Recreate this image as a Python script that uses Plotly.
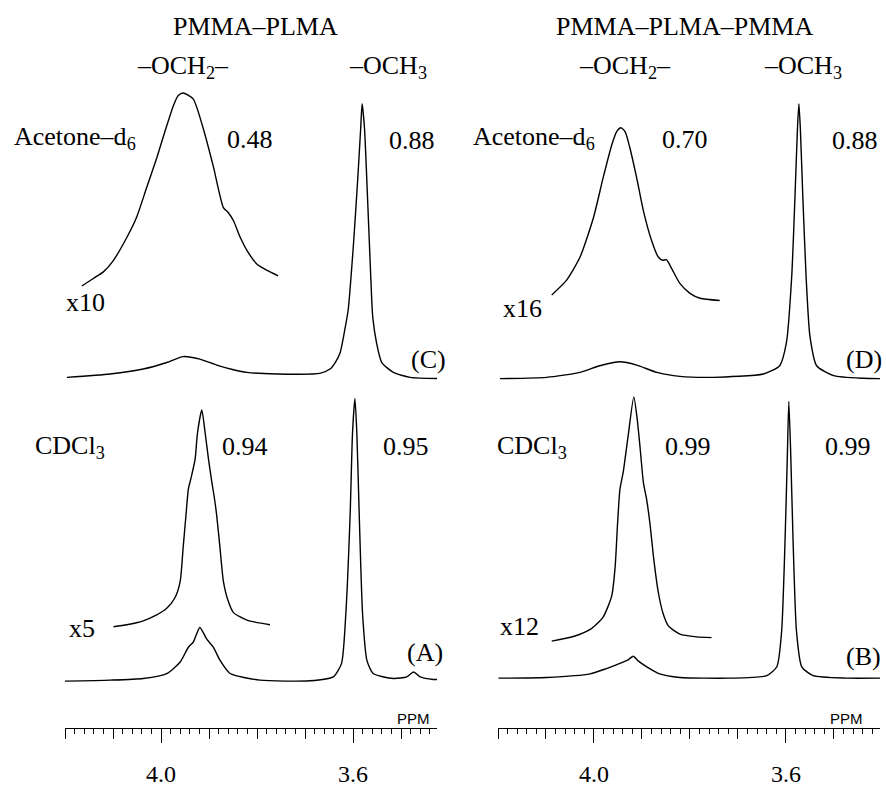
import plotly.graph_objects as go

# ------------------------- data -------------------------
# chemical shift (ppm) and intensity (a.u., height above each trace's own baseline)
ppm_C = [4.196, 4.106, 4.037, 3.988, 3.954, 3.919, 3.884, 3.849, 3.821, 3.759, 3.669, 3.648,
         3.637, 3.627, 3.617, 3.610, 3.599, 3.590, 3.584, 3.581, 3.576, 3.570, 3.563, 3.559,
         3.551, 3.540, 3.516, 3.481, 3.412]
int_C = [1.3, 4.7, 9.7, 16.3, 22.3, 19.7, 13.7, 9.0, 6.3, 4.7, 5.3, 9.7,
         16.3, 26.0, 49.7, 69.7, 136.0, 203.0, 253.0, 278.0, 253.0, 186.3, 103.0, 63.0,
         36.3, 16.3, 6.3, 1.3, 0.0]

ppm_C_x10 = [4.165, 4.141, 4.120, 4.099, 4.071, 4.051, 4.030, 4.009, 3.992, 3.974, 3.964, 3.954,
             3.933, 3.912, 3.891, 3.870, 3.860, 3.849, 3.835, 3.821, 3.801, 3.780, 3.756]
int_C_x10 = [23.7, 31.3, 38.0, 49.7, 73.0, 93.0, 123.0, 153.0, 179.7, 206.3, 216.3, 219.0,
             213.0, 183.0, 144.7, 103.0, 98.0, 89.7, 73.0, 59.7, 46.3, 39.7, 34.0]

ppm_A = [4.204, 4.106, 4.037, 3.988, 3.960, 3.943, 3.933, 3.919, 3.905, 3.891, 3.877, 3.856,
         3.794, 3.690, 3.641, 3.624, 3.615, 3.606, 3.601, 3.596, 3.592, 3.587, 3.580, 3.571,
         3.558, 3.516, 3.488, 3.474, 3.460, 3.433, 3.412]
int_A = [0.0, 1.0, 2.7, 7.7, 19.3, 34.3, 39.3, 54.3, 42.7, 34.3, 21.0, 7.7,
         1.0, 0.3, 4.3, 17.7, 67.7, 167.7, 251.0, 286.0, 251.0, 167.7, 67.7, 21.0,
         7.7, 2.7, 4.3, 9.3, 4.3, 1.7, 1.7]

ppm_A_x5 = [4.099, 4.071, 4.037, 4.009, 3.988, 3.971, 3.960, 3.954, 3.948, 3.943, 3.938, 3.929,
            3.924, 3.915, 3.908, 3.901, 3.894, 3.889, 3.884, 3.877, 3.870, 3.860, 3.849, 3.821,
            3.773]
int_A_x5 = [9.0, 11.0, 15.0, 21.0, 27.7, 38.3, 55.0, 88.3, 121.7, 148.3, 158.3, 178.3,
            205.0, 228.3, 205.0, 178.3, 155.0, 140.0, 121.7, 88.3, 55.0, 35.0, 23.3, 15.7,
            11.0]

ppm_D = [4.196, 4.099, 4.029, 3.988, 3.946, 3.911, 3.869, 3.821, 3.751, 3.647, 3.613, 3.599,
         3.588, 3.581, 3.576, 3.573, 3.570, 3.565, 3.558, 3.550, 3.536, 3.501, 3.439, 3.394]
int_D = [0.0, 1.3, 6.3, 13.0, 17.0, 13.7, 6.3, 2.3, 1.3, 4.7, 13.0, 36.3,
         103.0, 186.3, 253.0, 278.0, 253.0, 186.3, 103.0, 43.0, 13.0, 3.0, 0.3, 0.0]

ppm_D_x16 = [4.088, 4.057, 4.029, 4.001, 3.981, 3.963, 3.953, 3.944, 3.935, 3.925, 3.911, 3.897,
             3.880, 3.866, 3.857, 3.849, 3.838, 3.821, 3.800, 3.779, 3.738]
int_D_x16 = [16.7, 31.7, 55.0, 95.0, 135.0, 168.3, 181.7, 185.7, 181.7, 165.0, 135.0, 101.7,
             71.7, 55.0, 51.7, 52.3, 43.3, 28.3, 18.3, 13.3, 11.0]

ppm_B = [4.199, 4.099, 4.008, 3.974, 3.946, 3.929, 3.918, 3.908, 3.890, 3.863, 3.821, 3.717,
         3.640, 3.619, 3.609, 3.602, 3.597, 3.594, 3.590, 3.585, 3.578, 3.567, 3.543, 3.474,
         3.404]
int_B = [0.0, 0.7, 4.3, 9.7, 15.0, 18.6, 22.2, 17.5, 11.5, 4.3, 0.7, 0.0,
         2.5, 11.5, 47.3, 136.8, 226.3, 280.0, 226.3, 136.8, 47.3, 11.5, 2.5, 0.0,
         0.0]

ppm_B_x12 = [4.088, 4.043, 4.008, 3.981, 3.963, 3.956, 3.951, 3.946, 3.939, 3.929, 3.917, 3.910,
             3.904, 3.897, 3.890, 3.883, 3.876, 3.866, 3.856, 3.845, 3.821, 3.786, 3.755]
int_B_x12 = [11.5, 16.1, 23.3, 35.8, 57.3, 85.9, 128.9, 164.7, 182.6, 218.4, 258.5, 236.3,
             207.6, 171.8, 153.9, 128.9, 96.7, 60.9, 39.4, 26.9, 18.6, 15.8, 15.0]

tick_vals = [4.0, 3.6]
tick_text = ["4.0", "3.6"]

# ------------------------- layout constants (pixels) -------------------------
W, H = 886, 787
AXIS_Y = 736
SERIF = "Liberation Serif"
FS = 26


def yv(px_row):
    """convert a pixel row of the page into the hidden y-axis value"""
    return H - px_row


fig = go.Figure()

# (x-values, intensities, x-axis, baseline pixel row)
traces = [
    (ppm_C, int_C, "x", 383),
    (ppm_C_x10, int_C_x10, "x", 313),
    (ppm_A, int_A, "x", 689),
    (ppm_A_x5, int_A_x5, "x", 643),
    (ppm_D, int_D, "x2", 383),
    (ppm_D_x16, int_D_x16, "x2", 315),
    (ppm_B, int_B, "x2", 686),
    (ppm_B_x12, int_B_x12, "x2", 660),
]
for xs, ys, xa, base in traces:
    fig.add_trace(go.Scatter(
        x=xs, y=[yv(base) + v for v in ys], xaxis=xa, yaxis="y",
        mode="lines", line=dict(color="black", width=1.4, shape="spline", smoothing=0.6),
        hoverinfo="skip", showlegend=False))

pos = (H - AXIS_Y) / H
dom_left = [65 / W, 437 / W]
dom_right = [498 / W, 880 / W]
rng_left = [4.2, 3.425]
rng_right = [4.2, 3.404]

common = dict(
    anchor="free", position=pos, showline=True, linecolor="black", linewidth=1,
    showgrid=False, zeroline=False, ticks="outside", ticklen=10, tickwidth=1,
    tickcolor="black", tickmode="linear", tick0=4.2, dtick=0.1, showticklabels=False,
    minor=dict(ticks="outside", ticklen=5, tickwidth=1, tickcolor="black",
               tick0=4.2, dtick=0.02, showgrid=False),
)
label_axis = dict(
    anchor="free", position=pos, showline=False, showgrid=False, zeroline=False,
    ticks="outside", ticklen=14, tickwidth=1, tickcolor="black",
    tickmode="array", tickvals=tick_vals, ticktext=tick_text,
    tickfont=dict(family=SERIF, size=24, color="black"), ticklabelstandoff=11,
)

fig.update_layout(
    width=W, height=H, margin=dict(l=0, r=0, t=0, b=0),
    paper_bgcolor="white", plot_bgcolor="white",
    xaxis=dict(domain=dom_left, range=rng_left, **common),
    xaxis2=dict(domain=dom_right, range=rng_right, **common),
    xaxis3=dict(overlaying="x", range=rng_left, **label_axis),
    xaxis4=dict(overlaying="x2", range=rng_right, **label_axis),
    yaxis=dict(domain=[0, 1], range=[0, H], visible=False, fixedrange=True),
)

# invisible marks so the overlay label axes are drawn
fig.add_trace(go.Scatter(x=[4.0], y=[-10], xaxis="x3", yaxis="y", mode="markers",
                         marker=dict(opacity=0), hoverinfo="skip", showlegend=False))
fig.add_trace(go.Scatter(x=[4.0], y=[-10], xaxis="x4", yaxis="y", mode="markers",
                         marker=dict(opacity=0), hoverinfo="skip", showlegend=False))

# text labels: (text, x px, y px, xanchor, font family, size)
labels = [
    ("PMMA–PLMA", 255, 27, "center", SERIF, FS),
    ("–OCH<sub>2</sub>–", 183, 68, "center", SERIF, FS),
    ("–OCH<sub>3</sub>", 388, 68, "center", SERIF, FS),
    ("Acetone–d<sub>6</sub>", 12, 140, "left", SERIF, FS),
    ("0.48", 250, 141, "center", SERIF, FS),
    ("0.88", 412, 142, "center", SERIF, FS),
    ("x10", 85, 306, "center", SERIF, FS),
    ("(C)", 428, 364, "center", SERIF, FS),
    ("CDCl<sub>3</sub>", 33, 452, "left", SERIF, FS),
    ("0.94", 245, 452, "center", SERIF, FS),
    ("0.95", 406, 452, "center", SERIF, FS),
    ("x5", 82, 636, "center", SERIF, FS),
    ("(A)", 425, 660, "center", SERIF, FS),
    ("PPM", 432, 727, "right", "Liberation Sans", 15),
    ("PMMA–PLMA–PMMA", 684, 27, "center", SERIF, FS),
    ("–OCH<sub>2</sub>–", 625, 68, "center", SERIF, FS),
    ("–OCH<sub>3</sub>", 803, 68, "center", SERIF, FS),
    ("Acetone–d<sub>6</sub>", 471, 140, "left", SERIF, FS),
    ("0.70", 685, 141, "center", SERIF, FS),
    ("0.88", 855, 142, "center", SERIF, FS),
    ("x16", 522, 312, "center", SERIF, FS),
    ("(D)", 864, 364, "center", SERIF, FS),
    ("CDCl<sub>3</sub>", 495, 452, "left", SERIF, FS),
    ("0.99", 688, 452, "center", SERIF, FS),
    ("0.99", 848, 452, "center", SERIF, FS),
    ("x12", 519, 634, "center", SERIF, FS),
    ("(B)", 863, 664, "center", SERIF, FS),
    ("PPM", 865, 727, "right", "Liberation Sans", 15),
]
for text, x, y, xa, fam, sz in labels:
    fig.add_annotation(text=text, x=x / W, y=1 - y / H, xref="paper", yref="paper",
                       xanchor=xa, yanchor="middle", showarrow=False,
                       font=dict(family=fam, size=sz, color="black"))

# the page's default 8px body margin would shift and crop the figure
fig.write_html("out.html", config={"displayModeBar": False, "staticPlot": True},
               post_script="document.body.style.margin='0px';")
